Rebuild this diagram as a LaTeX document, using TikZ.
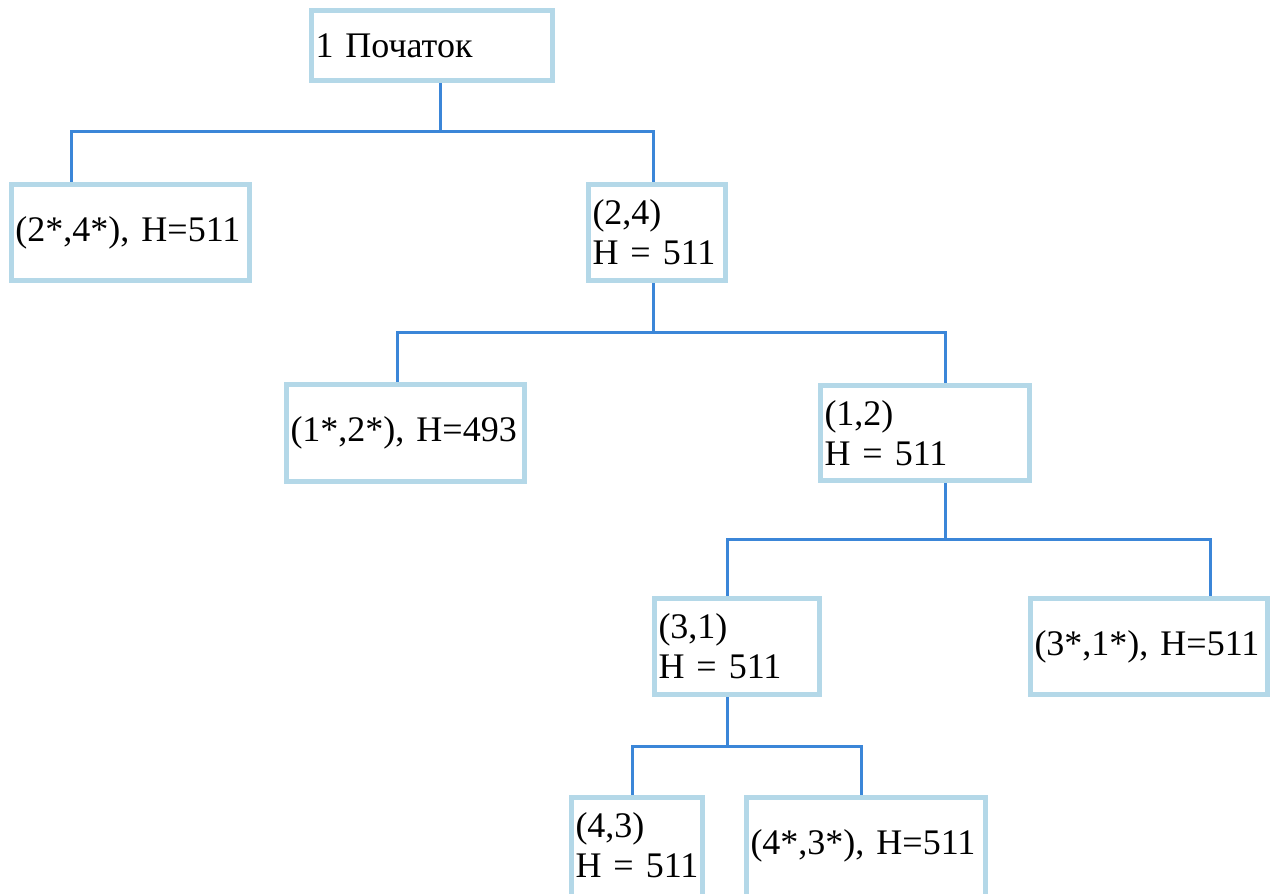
\documentclass[tikz,border=0pt]{standalone}
\usepackage{fontspec}
\setmainfont{Liberation Serif}
\usetikzlibrary{backgrounds}
\definecolor{boxc}{RGB}{180,216,232}
\definecolor{connc}{RGB}{59,134,216}
\tikzset{
  bxtext/.style={rectangle, align=left, inner xsep=4pt, inner ysep=0pt,
    font=\fontsize{36}{40}\selectfont},
  bx/.style={bxtext, draw=boxc, line width=5pt, fill=white},
  bxline/.style={draw=boxc, line width=5pt},
  conn/.style={draw=connc, line width=3pt}
}
\begin{document}
\begin{tikzpicture}[x=1pt,y=-1pt]
\useasboundingbox (0,0) rectangle (1275,894);
% boxes
\node[bx, minimum width=241pt, minimum height=70pt, text width=233pt] (B1) at (432,45.5) {1 Початок};
\node[bx, minimum width=238pt, minimum height=96pt, text width=230pt] (B2) at (130.5,232.5) {(2*,4*), H=511};
\node[bx, minimum width=137pt, minimum height=96pt, text width=129pt] (B3) at (657,232.5) {(2,4)\\H = 511};
\node[bx, minimum width=238pt, minimum height=97pt, text width=230pt] (B4) at (405.5,433) {(1*,2*), H=493};
\node[bx, minimum width=209pt, minimum height=95pt, text width=201pt] (B5) at (925,433) {(1,2)\\H = 511};
\node[bx, minimum width=165pt, minimum height=96pt, text width=157pt] (B6) at (737,646.5) {(3,1)\\H = 511};
\node[bx, minimum width=237pt, minimum height=96pt, text width=229pt] (B7) at (1149,646.5) {(3*,1*), H=511};
\node[bxtext, minimum width=131pt, minimum height=96pt, text width=123pt] (B8) at (637,845.5) {(4,3)\\H = 511};
\node[bxtext, minimum width=239pt, minimum height=96pt, text width=231pt] (B9) at (866,845.5) {(4*,3*), H=511};
\draw[bxline] (B8.south west) ++(0,6) -- (B8.north west) -- (B8.north east) -- ++(0,102);
\draw[bxline] (B9.south west) ++(0,6) -- (B9.north west) -- (B9.north east) -- ++(0,102);
% junction coordinates
\coordinate (j1) at (440,131); \coordinate (l1) at (71,131); \coordinate (r1) at (653,131);
\coordinate (j2) at (653,332); \coordinate (l2) at (397,332); \coordinate (r2) at (945,332);
\coordinate (j3) at (945,539); \coordinate (l3) at (727,539); \coordinate (r3) at (1210,539);
\coordinate (j4) at (727,746); \coordinate (l4) at (632,746); \coordinate (r4) at (861,746);
\begin{pgfonlayer}{background}
\draw[conn] (B1.south -| j1) -- (j1);
\draw[conn] (B2.north -| l1) -- (l1) -- (r1) -- (B3.north -| r1);
\draw[conn] (B3.south -| j2) -- (j2);
\draw[conn] (B4.north -| l2) -- (l2) -- (r2) -- (B5.north -| r2);
\draw[conn] (B5.south -| j3) -- (j3);
\draw[conn] (B6.north -| l3) -- (l3) -- (r3) -- (B7.north -| r3);
\draw[conn] (B6.south -| j4) -- (j4);
\draw[conn] (B8.north -| l4) -- (l4) -- (r4) -- (B9.north -| r4);
\end{pgfonlayer}
\end{tikzpicture}
\end{document}
